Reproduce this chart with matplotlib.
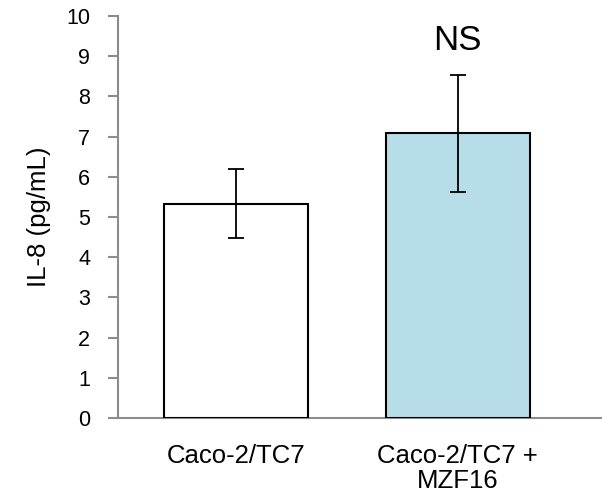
import matplotlib.pyplot as plt

plt.rcParams['font.family'] = ['Liberation Sans', 'DejaVu Sans']

groups = ['Caco-2/TC7', 'Caco-2/TC7 +\nMZF16']
il8 = [5.33, 7.08]
il8_err = [0.86, 1.46]
bar_colors = ['white', '#B7DEE8']
annotation = 'NS'

fig = plt.figure(figsize=(6.02, 4.98), dpi=100)
ax = fig.add_axes([0.196, 0.1606, 0.804, 0.8074])

x = range(len(groups))
ax.bar(x, il8, width=0.65, color=bar_colors, edgecolor='black', linewidth=1.5, zorder=3)
ax.errorbar(x, il8, yerr=il8_err, fmt='none', ecolor='black', elinewidth=1.3,
            capsize=6, capthick=1.3, zorder=4)

# significance label above the second bar
ax.text(1, il8[1] + il8_err[1] + 0.45, annotation, ha='center', va='bottom', fontsize=25)

ax.set_xlim(-0.53, 1.65)
ax.set_ylim(0, 10)
ax.set_yticks(range(0, 11))
ax.set_xticks(list(x))
ax.set_xticklabels(groups, fontsize=18.5, linespacing=1.05)
ax.set_ylabel('IL-8 (pg/mL)', fontsize=18.5, labelpad=11)

for side in ['top', 'right']:
    ax.spines[side].set_visible(False)
for side in ['left', 'bottom']:
    ax.spines[side].set_color('#8c8c8c')
    ax.spines[side].set_linewidth(1.5)

ax.tick_params(axis='y', length=7, width=1.5, color='#8c8c8c', labelsize=15.5, pad=13)
ax.tick_params(axis='x', length=0, pad=19)

fig.savefig('out.png', dpi=100)
